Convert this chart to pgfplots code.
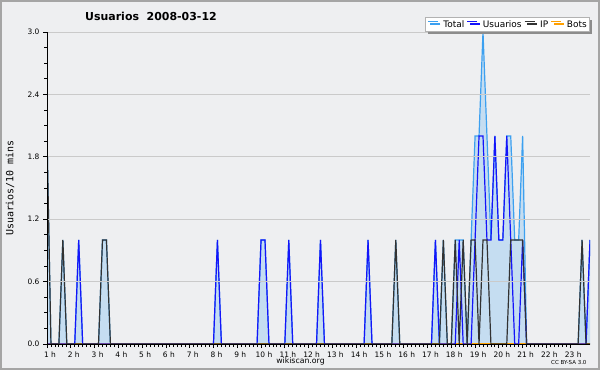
\documentclass[border=0pt]{standalone}
\usepackage{fontspec}
\setmainfont{DejaVu Sans}
\newfontfamily\monofont{DejaVu Sans Mono}
\usepackage{pgfplots}
\pgfplotsset{compat=1.18}
\usepackage{pgfplotstable}
\usetikzlibrary{shadows}
\definecolor{bgc}{RGB}{238,239,241}
\definecolor{framec}{RGB}{165,165,165}
\definecolor{gridc}{RGB}{202,202,202}
\definecolor{totalfill}{RGB}{197,221,241}
\definecolor{totalline}{RGB}{60,160,240}
\definecolor{usuc}{RGB}{20,20,250}
\definecolor{ipc}{RGB}{50,50,50}
\definecolor{botsc}{RGB}{255,160,0}
\pgfplotstableread{
i T U I B
0 2 0 2 0
1 0 0 0 0
2 0 0 0 0
3 0 0 0 0
4 1 0 1 0
5 0 0 0 0
6 0 0 0 0
7 0 0 0 0
8 1 1 0 0
9 0 0 0 0
10 0 0 0 0
11 0 0 0 0
12 0 0 0 0
13 0 0 0 0
14 1 0 1 0
15 1 0 1 0
16 0 0 0 0
17 0 0 0 0
18 0 0 0 0
19 0 0 0 0
20 0 0 0 0
21 0 0 0 0
22 0 0 0 0
23 0 0 0 0
24 0 0 0 0
25 0 0 0 0
26 0 0 0 0
27 0 0 0 0
28 0 0 0 0
29 0 0 0 0
30 0 0 0 0
31 0 0 0 0
32 0 0 0 0
33 0 0 0 0
34 0 0 0 0
35 0 0 0 0
36 0 0 0 0
37 0 0 0 0
38 0 0 0 0
39 0 0 0 0
40 0 0 0 0
41 0 0 0 0
42 0 0 0 0
43 1 1 0 0
44 0 0 0 0
45 0 0 0 0
46 0 0 0 0
47 0 0 0 0
48 0 0 0 0
49 0 0 0 0
50 0 0 0 0
51 0 0 0 0
52 0 0 0 0
53 0 0 0 0
54 1 1 0 0
55 1 1 0 0
56 0 0 0 0
57 0 0 0 0
58 0 0 0 0
59 0 0 0 0
60 0 0 0 0
61 1 1 0 0
62 0 0 0 0
63 0 0 0 0
64 0 0 0 0
65 0 0 0 0
66 0 0 0 0
67 0 0 0 0
68 0 0 0 0
69 1 1 0 0
70 0 0 0 0
71 0 0 0 0
72 0 0 0 0
73 0 0 0 0
74 0 0 0 0
75 0 0 0 0
76 0 0 0 0
77 0 0 0 0
78 0 0 0 0
79 0 0 0 0
80 0 0 0 0
81 1 1 0 0
82 0 0 0 0
83 0 0 0 0
84 0 0 0 0
85 0 0 0 0
86 0 0 0 0
87 0 0 0 0
88 1 0 1 0
89 0 0 0 0
90 0 0 0 0
91 0 0 0 0
92 0 0 0 0
93 0 0 0 0
94 0 0 0 0
95 0 0 0 0
96 0 0 0 0
97 0 0 0 0
98 1 1 0 0
99 0 0 0 0
100 1 0 1 0
101 0 0 0 0
102 0 0 0 0
103 1 0 1 0
104 1 1 0 0
105 1 0 1 0
106 0 0 0 0
107 1 0 1 0
108 2 1 1 0
109 2 2 0 0
110 3 2 1 0
111 2 1 1 0
112 1 1 0 0
113 2 2 0 0
114 1 1 0 0
115 1 1 0 0
116 2 2 0 0
117 2 1 1 0
118 1 0 1 0
119 1 0 1 0
120 2 1 1 0
121 0 0 0 0
122 0 0 0 0
123 0 0 0 0
124 0 0 0 0
125 0 0 0 0
126 0 0 0 0
127 0 0 0 0
128 0 0 0 0
129 0 0 0 0
130 0 0 0 0
131 0 0 0 0
132 0 0 0 0
133 0 0 0 0
134 0 0 0 0
135 1 0 1 0
136 0 0 0 0
137 1 1 0 0
}\data

\begin{document}
\begin{tikzpicture}[x=1bp,y=1bp]
\path[use as bounding box, fill=bgc] (0,0) rectangle (600,370);
\draw[framec, line width=2bp] (1,1) rectangle (599,369);
\begin{axis}[
  at={(47bp,26bp)}, anchor=south west,
  scale only axis, width=543bp, height=312bp,
  xmin=0, xmax=137, ymin=0, ymax=3,
  axis lines*=left,
  axis line style={black, line width=1bp},
  axis on top,
  xtick={0,6,...,132},
  xticklabels={1 h,2 h,3 h,4 h,5 h,6 h,7 h,8 h,9 h,10 h,11 h,12 h,13 h,14 h,15 h,16 h,17 h,18 h,19 h,20 h,21 h,22 h,23 h},
  minor x tick num=5,
  ytick={0,0.6,1.2,1.8,2.4,3.0},
  yticklabels={0.0,0.6,1.2,1.8,2.4,3.0},
  minor y tick num=3,
  ymajorgrids,
  major grid style={gridc, line width=0.8bp},
  tick align=outside,
  major tick length=4bp, minor tick length=3bp,
  every tick/.style={black, line width=0.8bp},
  ticklabel style={font=\fontsize{7.5}{8}\selectfont},
  xticklabel style={anchor=north, xshift=3bp},
  yticklabel style={anchor=east},
  legend columns=-1,
  legend cell align=left,
  legend image code/.code={\draw[#1] (0bp,3bp) -- (10bp,3bp);},
  legend style={at={(1,1)}, anchor=south east,
    font=\fontsize{9}{10}\selectfont,
    fill=white, draw=gray!60, line width=0.6bp,
    inner sep=1.5bp,
    drop shadow={shadow xshift=2.5bp, shadow yshift=-2.5bp, fill=gray!90, opacity=1},
    nodes={inner sep=1.5bp},
    /tikz/every odd column/.append style={column sep=3.5bp},
    /tikz/every even column/.append style={column sep=1bp}},
]
\addlegendimage{totalline, line width=1.1bp}
\addlegendentry{Total}
\addlegendimage{usuc, line width=1.1bp}
\addlegendentry{Usuarios}
\addlegendimage{ipc, line width=1.1bp}
\addlegendentry{IP}
\addlegendimage{botsc, line width=1.1bp}
\addlegendentry{Bots}
\addplot[forget plot, fill=totalfill, draw=none] table[x=i, y=T] {\data} \closedcycle;
\addplot[forget plot, totalline, line width=1.2bp] table[x=i, y=T] {\data};
\addplot[forget plot, botsc, line width=1.2bp] table[x=i, y=B] {\data};
\addplot[forget plot, usuc, line width=1.2bp] table[x=i, y=U] {\data};
\addplot[forget plot, ipc, line width=1.2bp] table[x=i, y=I] {\data};
\end{axis}
\node[font=\bfseries\fontsize{11}{13}\selectfont] at (151,353.3) {Usuarios\ \ 2008-03-12};
\node[font=\monofont\fontsize{10}{12}\selectfont, rotate=90] at (10,182) {Usuarios/10 mins};
\node[font=\fontsize{7.8}{9}\selectfont] at (300.5,8.5) {wikiscan.org};
\node[font=\fontsize{5.5}{6}\selectfont, anchor=east] at (590,7.5) {CC BY-SA 3.0};
\end{tikzpicture}
\end{document}
